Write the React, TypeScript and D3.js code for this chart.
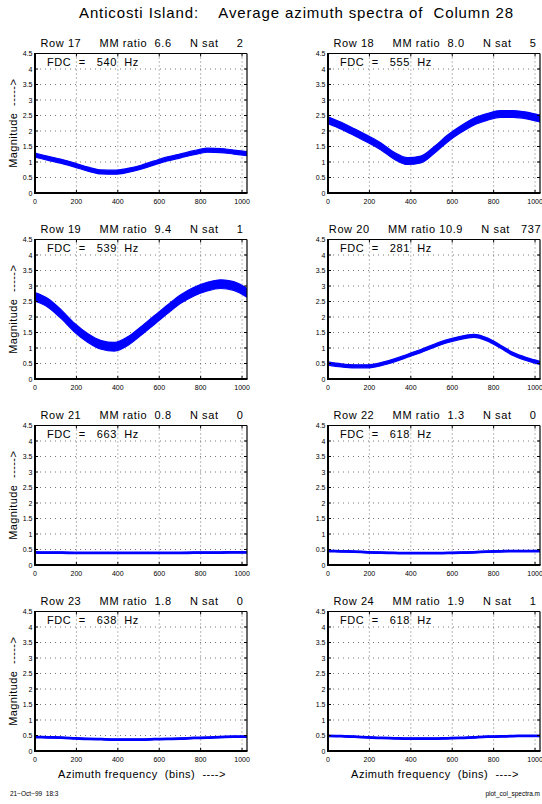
import React from 'react';
import * as d3 from 'd3';

const bins = [0, 64, 128, 192, 256, 320, 384, 448, 512, 576, 640, 704, 768, 832, 896, 960, 1024];

const row17Mag = [1.22, 1.12, 1.02, 0.9, 0.77, 0.68, 0.67, 0.73, 0.83, 0.97, 1.1, 1.2, 1.3, 1.38, 1.37, 1.32, 1.27];
const row18Mag = [2.35, 2.17, 1.96, 1.74, 1.5, 1.2, 1.03, 1.08, 1.38, 1.75, 2.05, 2.3, 2.45, 2.55, 2.55, 2.5, 2.4];
const row19Mag = [2.65, 2.45, 2.08, 1.65, 1.32, 1.1, 1.04, 1.22, 1.55, 1.9, 2.25, 2.58, 2.82, 2.98, 3.06, 3.0, 2.78];
const row20Mag = [0.5, 0.44, 0.41, 0.41, 0.48, 0.6, 0.75, 0.9, 1.07, 1.22, 1.33, 1.39, 1.28, 1.05, 0.8, 0.64, 0.52];
const row21Mag = [0.41, 0.4, 0.4, 0.39, 0.39, 0.39, 0.39, 0.39, 0.39, 0.39, 0.39, 0.39, 0.4, 0.4, 0.4, 0.41, 0.41];
const row22Mag = [0.45, 0.44, 0.43, 0.41, 0.4, 0.39, 0.38, 0.38, 0.38, 0.39, 0.4, 0.41, 0.43, 0.44, 0.45, 0.45, 0.45];
const row23Mag = [0.45, 0.44, 0.43, 0.41, 0.39, 0.38, 0.37, 0.37, 0.37, 0.38, 0.39, 0.4, 0.42, 0.43, 0.45, 0.46, 0.46];
const row24Mag = [0.49, 0.48, 0.46, 0.44, 0.42, 0.41, 0.4, 0.4, 0.4, 0.41, 0.42, 0.44, 0.46, 0.47, 0.48, 0.49, 0.49];

const magnitudes = [row17Mag, row18Mag, row19Mag, row20Mag, row21Mag, row22Mag, row23Mag, row24Mag];
// half width of the noisy band
const noise = [0.065, 0.11, 0.14, 0.05, 0.025, 0.025, 0.025, 0.025];

const rows = [17, 18, 19, 20, 21, 22, 23, 24];
const mmRatios = ['6.6', '8.0', '9.4', '10.9', '0.8', '1.3', '1.8', '1.9'];
const nSat = [2, 5, 1, 737, 0, 0, 0, 1];
const fdc = [540, 555, 539, 281, 663, 618, 638, 618];

const xTicks = [0, 200, 400, 600, 800, 1000];
const yTicks = [0, 0.5, 1, 1.5, 2, 2.5, 3, 3.5, 4, 4.5];

const FONT = '"Liberation Sans", Arial, Helvetica, sans-serif';
const colX = [35, 328];
const rowY = [53.5, 239.5, 425.5, 611.5];
const axW = 212;
const axH = 139.5;

function pad(s: string, n: number) {
  return ' '.repeat(Math.max(0, n - s.length)) + s;
}

function Panel({ i }: { i: number }) {
  const col = i % 2;
  const r = Math.floor(i / 2);
  const x = d3.scaleLinear().domain([0, 1024]).range([0, axW]);
  const y = d3.scaleLinear().domain([0, 4.5]).range([axH, 0]);
  const data = magnitudes[i];
  const nz = noise[i];

  const band = d3.area<number>()
    .x((_, k) => x(bins[k]))
    .y0(d => y(d - nz))
    .y1(d => y(d + nz))
    .curve(d3.curveMonotoneX);
  const line = d3.line<number>()
    .x((_, k) => x(bins[k]))
    .y(d => y(d))
    .curve(d3.curveMonotoneX);

  const title = `Row ${rows[i]}     MM ratio ${pad(mmRatios[i], 4)}     N sat ${pad(String(nSat[i]), 5)}`;
  const clipId = `clip${i}`;

  return (
    <g transform={`translate(${colX[col]},${rowY[r]})`} fontFamily={FONT}>
      <defs>
        <clipPath id={clipId}>
          <rect x={0} y={0} width={axW} height={axH} />
        </clipPath>
      </defs>
      <rect x={0} y={0} width={axW} height={axH} fill="#fff" />
      {/* grid */}
      {xTicks.filter(t => t > 0).map(t => (
        <line key={'gx' + t} x1={x(t)} x2={x(t)} y1={0} y2={axH}
          stroke="#555" strokeWidth={0.8} strokeDasharray="1,3" />
      ))}
      {yTicks.filter(t => t > 0 && t < 4.5).map(t => (
        <line key={'gy' + t} x1={0} x2={axW} y1={y(t)} y2={y(t)}
          stroke="#555" strokeWidth={0.8} strokeDasharray="1,4" />
      ))}
      {/* spectrum */}
      <g clipPath={`url(#${clipId})`}>
        <path d={band(data) || ''} fill="#0000ff" stroke="#0000ff" strokeWidth={1.2} />
        <path d={line(data) || ''} fill="none" stroke="#0000ff" strokeWidth={1.8} />
      </g>
      {/* ticks inward */}
      {xTicks.map(t => (
        <g key={'tx' + t}>
          <line x1={x(t)} x2={x(t)} y1={axH} y2={axH - 3} stroke="#000" />
          <line x1={x(t)} x2={x(t)} y1={0} y2={3} stroke="#000" />
          <text x={x(t)} y={axH + 11} fontSize={7} textAnchor="middle">{t}</text>
        </g>
      ))}
      {yTicks.map(t => (
        <g key={'ty' + t}>
          <line x1={0} x2={3} y1={y(t)} y2={y(t)} stroke="#000" />
          <line x1={axW - 3} x2={axW} y1={y(t)} y2={y(t)} stroke="#000" />
          <text x={-2.5} y={y(t) + 2.5} fontSize={7} textAnchor="end">{t}</text>
        </g>
      ))}
      {/* box */}
      <line x1={0} x2={axW} y1={0} y2={0} stroke="#000" strokeWidth={1} />
      <line x1={axW} x2={axW} y1={0} y2={axH} stroke="#000" strokeWidth={1.2} />
      <line x1={0} x2={0} y1={-0.5} y2={axH + 1} stroke="#000" strokeWidth={2} />
      <line x1={-1} x2={axW + 0.5} y1={axH} y2={axH} stroke="#000" strokeWidth={2} />

      <text x={axW / 2 + 1} y={-7} fontSize={11} letterSpacing={0.6} textAnchor="middle"
        style={{ whiteSpace: 'pre' }}>{title}</text>
      <text x={12} y={12.5} fontSize={11} letterSpacing={0.6} style={{ whiteSpace: 'pre' }}>
        {`FDC  =   ${fdc[i]}  Hz`}
      </text>
      {col === 0 && (
        <text transform={`translate(-18.5,${axH / 2}) rotate(-90)`} fontSize={11} letterSpacing={0.4}
          textAnchor="middle" style={{ whiteSpace: 'pre' }}>{'Magnitude  ----->'}</text>
      )}
      {r === 3 && (
        <text x={axW / 2 + 1} y={axH + 26.5} fontSize={11} letterSpacing={0.5}
          textAnchor="middle" style={{ whiteSpace: 'pre' }}>{'Azimuth frequency  (bins)  ---->'}</text>
      )}
    </g>
  );
}

export default function App() {
  return (
    <svg width={542} height={804} style={{ position: 'absolute', left: 0, top: 0, background: '#fff' }}>
      <rect width={542} height={804} fill="#fff" />
      <text x={79} y={17.5} fontFamily={FONT} fontSize={15} textLength={434} lengthAdjust="spacing"
        style={{ whiteSpace: 'pre' }}>{'Anticosti Island:    Average azimuth spectra of  Column 28'}</text>
      {rows.map((_, i) => <Panel key={i} i={i} />)}
      <text x={10} y={796} fontFamily={FONT} fontSize={6.5} style={{ whiteSpace: 'pre' }}>{'21\u2212Oct\u221299  18:3'}</text>
      <text x={540} y={796} fontFamily={FONT} fontSize={6.5} textAnchor="end">plot_col_spectra.m</text>
    </svg>
  );
}
